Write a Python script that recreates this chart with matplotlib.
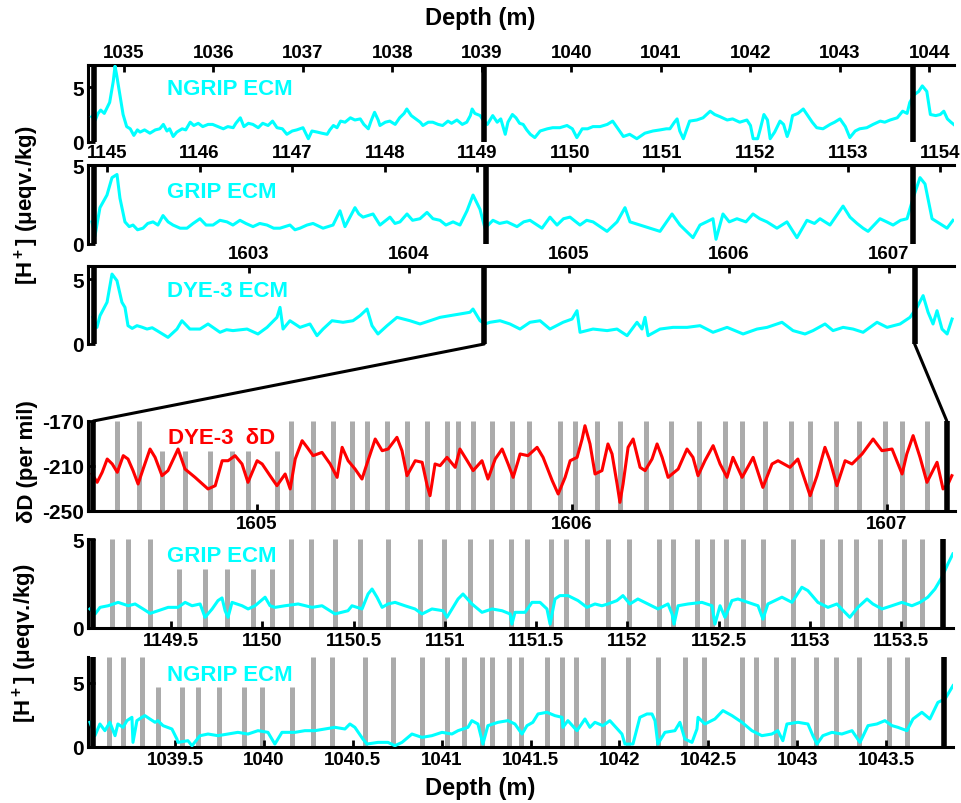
import numpy as np
import matplotlib
matplotlib.use("Agg")
import matplotlib.pyplot as plt
from matplotlib.patches import ConnectionPatch

plt.rcParams.update({
    "font.family": ["Liberation Sans", "DejaVu Sans"],
    "font.weight": "bold",
    "axes.unicode_minus": False,
    "mathtext.fontset": "custom",
    "mathtext.rm": "Liberation Sans:bold",
    "mathtext.bf": "Liberation Sans:bold",
    "mathtext.default": "rm",
})

# ---- data: (depth m, value) ----
ngrip_top = [
    (1034.64, 2.3), (1034.68, 2.0), (1034.71, 2.6), (1034.74, 2.9), (1034.78, 2.6), (1034.81, 3.1),
    (1034.84, 3.6), (1034.88, 5.5), (1034.90, 6.9), (1034.92, 6.0), (1034.96, 4.0), (1034.99, 2.5),
    (1035.03, 1.4), (1035.07, 1.2), (1035.11, 0.6), (1035.15, 1.1), (1035.18, 0.9), (1035.23, 1.1),
    (1035.29, 0.8), (1035.35, 1.1), (1035.40, 1.2), (1035.44, 1.6), (1035.48, 1.0), (1035.51, 1.2),
    (1035.55, 0.5), (1035.59, 0.9), (1035.65, 1.2), (1035.69, 1.1), (1035.74, 1.8), (1035.78, 1.5),
    (1035.83, 1.7), (1035.88, 1.4), (1035.94, 1.6), (1035.99, 1.6), (1036.05, 1.4), (1036.11, 1.2),
    (1036.16, 1.4), (1036.22, 1.3), (1036.25, 1.7), (1036.30, 2.2), (1036.34, 1.4), (1036.39, 1.7),
    (1036.44, 1.6), (1036.50, 1.3), (1036.55, 1.7), (1036.61, 1.5), (1036.66, 1.9), (1036.71, 1.3),
    (1036.77, 1.2), (1036.82, 0.7), (1036.88, 1.0), (1036.93, 1.1), (1037.00, 1.3), (1037.06, 0.3),
    (1037.10, 1.0), (1037.16, 0.9), (1037.21, 0.8), (1037.27, 0.7), (1037.30, 1.1), (1037.34, 1.5),
    (1037.38, 1.3), (1037.42, 1.9), (1037.47, 1.8), (1037.53, 2.2), (1037.58, 2.0), (1037.64, 2.1),
    (1037.68, 1.6), (1037.73, 1.2), (1037.76, 1.9), (1037.80, 2.7), (1037.84, 2.0), (1037.86, 1.5),
    (1037.92, 1.8), (1037.97, 1.9), (1038.03, 1.6), (1038.08, 2.2), (1038.13, 2.6), (1038.16, 3.0),
    (1038.21, 2.4), (1038.26, 2.1), (1038.31, 1.8), (1038.34, 1.5), (1038.40, 1.8), (1038.45, 1.8),
    (1038.51, 1.6), (1038.56, 1.5), (1038.62, 1.9), (1038.66, 1.7), (1038.72, 2.0), (1038.78, 1.6),
    (1038.83, 1.8), (1038.87, 2.4), (1038.89, 3.0), (1038.92, 2.6), (1038.98, 2.4), (1039.02, 1.9),
    (1039.06, 1.6), (1039.09, 2.0), (1039.12, 2.4), (1039.17, 1.8), (1039.21, 2.1), (1039.26, 0.7),
    (1039.29, 1.8), (1039.34, 2.5), (1039.38, 2.2), (1039.42, 1.7), (1039.46, 1.6), (1039.50, 1.1),
    (1039.54, 0.7), (1039.59, 0.4), (1039.65, 1.0), (1039.73, 1.2), (1039.79, 1.3), (1039.87, 1.3),
    (1039.95, 1.5), (1040.01, 1.2), (1040.06, 0.4), (1040.12, 1.2), (1040.18, 1.2), (1040.24, 1.4),
    (1040.32, 1.4), (1040.40, 1.6), (1040.46, 1.9), (1040.52, 1.2), (1040.58, 0.5), (1040.65, 0.7),
    (1040.73, 0.3), (1040.82, 0.8), (1040.91, 1.0), (1040.99, 1.1), (1041.06, 1.2), (1041.10, 1.2),
    (1041.15, 1.8), (1041.18, 2.1), (1041.21, 1.0), (1041.25, 0.3), (1041.29, 1.2), (1041.32, 1.9),
    (1041.40, 2.0), (1041.47, 2.2), (1041.55, 2.8), (1041.60, 2.5), (1041.66, 2.3), (1041.74, 2.0),
    (1041.80, 2.1), (1041.88, 1.8), (1041.96, 2.0), (1042.00, 1.5), (1042.03, 0.3), (1042.08, 0.3),
    (1042.11, 1.2), (1042.15, 2.5), (1042.19, 2.0), (1042.22, 0.3), (1042.27, 0.9), (1042.33, 1.9),
    (1042.37, 1.6), (1042.41, 0.5), (1042.44, 1.2), (1042.47, 2.4), (1042.53, 2.6), (1042.59, 3.0),
    (1042.64, 2.4), (1042.69, 1.8), (1042.74, 1.3), (1042.81, 1.2), (1042.89, 1.6), (1042.94, 1.8),
    (1043.00, 2.1), (1043.06, 1.4), (1043.11, 0.4), (1043.17, 1.0), (1043.22, 1.2), (1043.30, 1.3),
    (1043.37, 1.6), (1043.45, 1.9), (1043.50, 1.8), (1043.56, 2.0), (1043.64, 2.2), (1043.67, 2.5),
    (1043.70, 2.8), (1043.75, 2.6), (1043.78, 3.6), (1043.83, 4.3), (1043.88, 4.6), (1043.92, 5.1),
    (1043.97, 4.6), (1044.01, 2.5), (1044.07, 2.4), (1044.12, 2.5), (1044.16, 2.8), (1044.20, 2.1),
    (1044.24, 1.8), (1044.27, 1.6),
]

grip_top = [
    (1144.838, 1.4), (1144.870, 0.5), (1144.924, 2.3), (1145.000, 3.1), (1145.054, 4.2), (1145.108, 4.4),
    (1145.140, 2.9), (1145.194, 1.4), (1145.240, 1.1), (1145.281, 1.2), (1145.330, 0.9), (1145.389, 1.0),
    (1145.440, 1.3), (1145.497, 1.4), (1145.550, 1.2), (1145.605, 1.8), (1145.660, 1.4), (1145.713, 1.2),
    (1145.790, 1.0), (1145.864, 1.0), (1145.930, 1.3), (1146.004, 1.6), (1146.070, 1.2), (1146.145, 1.2),
    (1146.220, 1.5), (1146.296, 1.4), (1146.360, 1.2), (1146.436, 1.5), (1146.500, 1.3), (1146.577, 1.1),
    (1146.650, 1.3), (1146.728, 1.2), (1146.800, 1.0), (1146.868, 1.0), (1146.976, 1.2), (1147.030, 0.9),
    (1147.084, 1.0), (1147.160, 1.2), (1147.225, 1.3), (1147.333, 1.0), (1147.441, 1.2), (1147.516, 2.1),
    (1147.570, 1.1), (1147.678, 2.3), (1147.720, 1.9), (1147.765, 1.7), (1147.873, 1.9), (1147.948, 1.2),
    (1148.056, 1.7), (1148.110, 1.3), (1148.164, 1.4), (1148.240, 1.9), (1148.300, 1.5), (1148.380, 1.6),
    (1148.456, 2.0), (1148.520, 1.6), (1148.596, 1.5), (1148.660, 1.2), (1148.737, 1.4), (1148.812, 1.2),
    (1148.888, 2.1), (1148.953, 3.1), (1149.028, 2.2), (1149.082, 1.0), (1149.168, 1.5), (1149.240, 1.3),
    (1149.320, 1.4), (1149.428, 1.1), (1149.500, 1.4), (1149.568, 1.5), (1149.698, 1.0), (1149.784, 1.7),
    (1149.860, 1.2), (1149.930, 1.6), (1150.000, 1.7), (1150.108, 1.2), (1150.180, 1.5), (1150.249, 1.4),
    (1150.400, 0.8), (1150.508, 1.4), (1150.594, 2.3), (1150.648, 1.4), (1150.756, 1.2), (1150.864, 1.0),
    (1150.972, 0.8), (1151.102, 1.9), (1151.188, 1.2), (1151.328, 0.4), (1151.404, 1.2), (1151.544, 1.6),
    (1151.577, 0.3), (1151.652, 1.9), (1151.720, 1.4), (1151.803, 1.6), (1151.900, 1.4), (1151.976, 1.9),
    (1152.050, 1.6), (1152.127, 1.4), (1152.235, 1.0), (1152.343, 1.4), (1152.451, 0.4), (1152.559, 1.5),
    (1152.640, 1.3), (1152.700, 1.6), (1152.808, 1.2), (1152.949, 2.4), (1153.024, 1.7), (1153.100, 1.3),
    (1153.165, 1.0), (1153.219, 0.8), (1153.348, 1.6), (1153.420, 1.4), (1153.489, 1.2), (1153.570, 1.5),
    (1153.640, 1.6), (1153.705, 2.9), (1153.780, 4.2), (1153.834, 3.8), (1153.910, 1.6), (1154.018, 1.2),
    (1154.072, 1.0), (1154.136, 1.5),
]

dye3_top = [
    (1602.025, 2.05), (1602.050, 1.28), (1602.069, 2.18), (1602.113, 3.21), (1602.144, 5.38), (1602.175, 4.87),
    (1602.206, 3.21), (1602.225, 2.82), (1602.244, 1.41), (1602.270, 1.20), (1602.300, 1.41), (1602.330, 1.30),
    (1602.363, 1.15), (1602.395, 1.25), (1602.425, 1.03), (1602.494, 0.51), (1602.550, 1.15), (1602.581, 1.79),
    (1602.631, 1.15), (1602.694, 1.15), (1602.744, 1.54), (1602.819, 0.90), (1602.860, 1.10), (1602.900, 1.03),
    (1602.988, 1.15), (1603.056, 0.77), (1603.113, 1.28), (1603.175, 2.05), (1603.194, 2.82), (1603.213, 1.15),
    (1603.256, 1.79), (1603.319, 1.28), (1603.381, 1.54), (1603.425, 0.64), (1603.463, 1.15), (1603.519, 1.79),
    (1603.588, 1.67), (1603.650, 1.79), (1603.694, 2.18), (1603.738, 2.69), (1603.769, 1.41), (1603.806, 0.77),
    (1603.863, 1.41), (1603.925, 2.05), (1604.006, 1.79), (1604.069, 1.54), (1604.131, 1.79), (1604.194, 2.05),
    (1604.256, 2.18), (1604.319, 2.31), (1604.381, 2.44), (1604.400, 2.69), (1604.444, 1.79), (1604.475, 1.54),
    (1604.506, 1.67), (1604.569, 1.79), (1604.631, 1.54), (1604.694, 1.15), (1604.756, 1.67), (1604.819, 1.79),
    (1604.881, 1.15), (1604.963, 1.67), (1605.019, 1.92), (1605.050, 2.56), (1605.069, 0.90), (1605.150, 1.15),
    (1605.238, 1.03), (1605.300, 1.15), (1605.363, 0.64), (1605.425, 1.67), (1605.456, 1.15), (1605.475, 2.05),
    (1605.494, 0.64), (1605.569, 1.15), (1605.650, 1.28), (1605.738, 1.28), (1605.819, 1.41), (1605.900, 0.90),
    (1605.988, 1.28), (1606.088, 0.77), (1606.175, 1.15), (1606.238, 1.28), (1606.331, 1.67), (1606.400, 1.03),
    (1606.475, 0.77), (1606.525, 1.03), (1606.600, 1.54), (1606.650, 1.03), (1606.713, 1.28), (1606.775, 1.15),
    (1606.838, 0.90), (1606.925, 1.67), (1606.988, 1.28), (1607.069, 1.54), (1607.131, 2.05), (1607.175, 2.82),
    (1607.213, 3.72), (1607.244, 2.44), (1607.275, 1.54), (1607.300, 2.56), (1607.331, 1.15), (1607.363, 0.77),
    (1607.394, 1.92),
]

dye3_dD = [
    (1604.476, -217.1), (1604.492, -224.5), (1604.508, -215.6), (1604.524, -203.8), (1604.540, -208.2),
    (1604.556, -215.6), (1604.575, -200.8), (1604.590, -203.8), (1604.606, -214.1), (1604.622, -226.0),
    (1604.638, -212.7), (1604.660, -194.9), (1604.676, -202.3), (1604.698, -218.6), (1604.717, -214.1),
    (1604.749, -194.9), (1604.771, -212.7), (1604.803, -220.1), (1604.844, -230.4), (1604.867, -227.5),
    (1604.889, -205.3), (1604.908, -205.3), (1604.930, -200.8), (1604.952, -208.2), (1604.971, -224.5),
    (1605.000, -205.3), (1605.016, -208.2), (1605.041, -218.6), (1605.063, -227.5), (1605.089, -217.1),
    (1605.105, -230.4), (1605.121, -203.8), (1605.143, -187.5), (1605.159, -193.4), (1605.178, -200.8),
    (1605.206, -197.9), (1605.232, -208.2), (1605.254, -220.1), (1605.270, -193.4), (1605.289, -205.3),
    (1605.311, -212.7), (1605.333, -221.6), (1605.352, -205.3), (1605.375, -186.0), (1605.397, -196.4),
    (1605.416, -194.9), (1605.444, -184.5), (1605.460, -196.4), (1605.476, -218.6), (1605.502, -205.3),
    (1605.524, -206.7), (1605.540, -227.5), (1605.549, -236.4), (1605.565, -208.2), (1605.581, -209.7),
    (1605.603, -202.3), (1605.629, -211.2), (1605.644, -194.9), (1605.667, -205.3), (1605.686, -214.1),
    (1605.714, -205.3), (1605.733, -221.6), (1605.756, -203.8), (1605.778, -194.9), (1605.797, -208.2),
    (1605.813, -220.1), (1605.829, -205.3), (1605.835, -199.3), (1605.860, -200.8), (1605.889, -193.4),
    (1605.908, -202.3), (1605.937, -223.0), (1605.956, -234.9), (1605.978, -220.1), (1605.994, -205.3),
    (1606.016, -202.3), (1606.032, -186.0), (1606.041, -174.2), (1606.057, -190.4), (1606.073, -217.1),
    (1606.095, -214.1), (1606.114, -190.4), (1606.127, -199.3), (1606.143, -226.0), (1606.152, -242.3),
    (1606.162, -226.0), (1606.178, -193.4), (1606.194, -186.0), (1606.216, -211.2), (1606.232, -214.1),
    (1606.254, -203.8), (1606.270, -190.4), (1606.286, -202.3), (1606.305, -220.1), (1606.337, -212.7),
    (1606.365, -194.9), (1606.384, -202.3), (1606.400, -218.6), (1606.422, -205.3), (1606.448, -191.9),
    (1606.470, -208.2), (1606.492, -220.1), (1606.511, -202.3), (1606.540, -220.1), (1606.575, -202.3),
    (1606.606, -229.0), (1606.635, -208.2), (1606.654, -205.3), (1606.692, -211.2), (1606.717, -203.8),
    (1606.756, -236.4), (1606.778, -218.6), (1606.803, -193.4), (1606.819, -205.3), (1606.841, -227.5),
    (1606.867, -205.3), (1606.889, -208.2), (1606.921, -199.3), (1606.956, -186.0), (1606.984, -196.4),
    (1607.016, -194.9), (1607.048, -217.1), (1607.063, -199.3), (1607.083, -183.0), (1607.105, -202.3),
    (1607.127, -224.5), (1607.159, -206.7), (1607.178, -230.4), (1607.194, -226.0), (1607.206, -218.6),
]

grip_zoom = [
    (1149.056, 1.07), (1149.084, 0.79), (1149.111, 1.16), (1149.155, 1.25), (1149.210, 1.44), (1149.265, 1.25),
    (1149.303, 1.35), (1149.347, 1.07), (1149.385, 0.82), (1149.429, 0.97), (1149.484, 1.16), (1149.538, 1.16),
    (1149.577, 1.44), (1149.615, 1.25), (1149.659, 1.35), (1149.686, 0.60), (1149.725, 1.07), (1149.757, 1.54),
    (1149.779, 1.69), (1149.796, 0.97), (1149.812, 0.60), (1149.834, 1.44), (1149.889, 1.25), (1149.922, 1.07),
    (1149.960, 1.25), (1150.015, 1.73), (1150.042, 1.25), (1150.070, 1.16), (1150.124, 1.25), (1150.196, 1.35),
    (1150.272, 1.16), (1150.327, 1.25), (1150.398, 0.79), (1150.469, 0.97), (1150.491, 1.25), (1150.546, 1.07),
    (1150.579, 1.91), (1150.601, 2.19), (1150.628, 1.73), (1150.656, 1.16), (1150.688, 1.35), (1150.727, 1.44),
    (1150.781, 1.25), (1150.836, 1.07), (1150.875, 0.79), (1150.929, 1.07), (1150.990, 0.97), (1151.011, 0.60),
    (1151.039, 1.07), (1151.072, 1.63), (1151.099, 1.91), (1151.148, 1.35), (1151.203, 0.88), (1151.258, 1.07),
    (1151.313, 0.97), (1151.357, 0.79), (1151.367, 0.22), (1151.384, 0.88), (1151.439, 0.88), (1151.477, 1.44),
    (1151.521, 1.44), (1151.559, 1.07), (1151.576, 0.22), (1151.603, 1.63), (1151.630, 1.82), (1151.674, 1.82),
    (1151.729, 1.54), (1151.778, 1.16), (1151.822, 1.35), (1151.860, 1.25), (1151.893, 1.35), (1151.942, 1.54),
    (1151.975, 1.82), (1152.013, 1.35), (1152.057, 1.63), (1152.112, 1.35), (1152.167, 1.07), (1152.222, 1.35),
    (1152.244, 0.79), (1152.255, 0.22), (1152.277, 1.25), (1152.332, 1.35), (1152.408, 1.44), (1152.463, 1.25),
    (1152.479, 0.22), (1152.507, 1.25), (1152.534, 0.60), (1152.572, 1.54), (1152.605, 1.63), (1152.660, 1.44),
    (1152.715, 1.25), (1152.742, 0.50), (1152.769, 1.35), (1152.846, 1.73), (1152.901, 1.44), (1152.955, 2.29),
    (1152.988, 2.10), (1153.043, 1.44), (1153.098, 1.16), (1153.147, 1.35), (1153.191, 0.88), (1153.218, 0.60),
    (1153.262, 1.16), (1153.312, 1.63), (1153.344, 1.35), (1153.394, 1.07), (1153.448, 1.25), (1153.503, 1.44),
    (1153.558, 1.25), (1153.602, 1.44), (1153.645, 1.73), (1153.684, 2.19), (1153.722, 2.85), (1153.755, 3.60),
    (1153.782, 4.16),
]

ngrip_zoom = [
    (1039.022, 1.92), (1039.050, 0.88), (1039.078, 1.79), (1039.106, 1.27), (1039.134, 1.92), (1039.163, 0.88),
    (1039.179, 1.79), (1039.208, 1.53), (1039.230, 2.05), (1039.258, 2.31), (1039.264, 0.36), (1039.286, 2.05),
    (1039.314, 2.31), (1039.331, 2.44), (1039.359, 2.18), (1039.388, 1.92), (1039.404, 2.05), (1039.433, 1.66),
    (1039.483, 1.40), (1039.511, 0.62), (1039.517, 0.36), (1039.573, 0.49), (1039.596, 0.10), (1039.641, 0.88),
    (1039.686, 1.01), (1039.742, 0.88), (1039.798, 1.01), (1039.854, 1.14), (1039.911, 1.01), (1039.967, 1.27),
    (1040.023, 1.14), (1040.062, 0.23), (1040.102, 1.14), (1040.175, 1.14), (1040.231, 1.27), (1040.287, 1.27),
    (1040.343, 1.40), (1040.400, 1.53), (1040.456, 1.40), (1040.484, 1.79), (1040.512, 1.53), (1040.557, 0.62),
    (1040.580, 0.23), (1040.642, 0.36), (1040.698, 0.36), (1040.737, 0.10), (1040.777, 0.36), (1040.833, 1.01),
    (1040.889, 0.75), (1040.945, 0.88), (1041.002, 1.14), (1041.058, 1.01), (1041.092, 1.27), (1041.148, 1.53),
    (1041.170, 2.05), (1041.204, 1.79), (1041.232, 0.23), (1041.260, 1.66), (1041.317, 1.92), (1041.373, 2.05),
    (1041.412, 1.79), (1041.452, 1.01), (1041.480, 1.66), (1041.513, 1.92), (1041.542, 2.57), (1041.592, 2.70),
    (1041.637, 2.44), (1041.677, 2.31), (1041.682, 1.53), (1041.710, 2.05), (1041.761, 1.27), (1041.806, 2.18),
    (1041.834, 1.53), (1041.862, 1.92), (1041.907, 1.66), (1041.946, 2.05), (1042.014, 1.01), (1042.031, 0.23),
    (1042.076, 0.23), (1042.115, 2.31), (1042.155, 2.57), (1042.183, 2.57), (1042.200, 2.05), (1042.216, 0.23),
    (1042.256, 1.14), (1042.312, 1.27), (1042.340, 1.92), (1042.368, 0.62), (1042.408, 0.36), (1042.436, 1.40),
    (1042.442, 2.31), (1042.481, 1.79), (1042.537, 2.18), (1042.582, 2.83), (1042.633, 2.44), (1042.689, 1.92),
    (1042.745, 1.27), (1042.801, 0.88), (1042.857, 1.01), (1042.891, 1.27), (1042.919, 0.49), (1042.942, 1.79),
    (1043.004, 1.92), (1043.060, 1.79), (1043.088, 0.88), (1043.111, 0.23), (1043.144, 0.88), (1043.195, 1.14),
    (1043.251, 1.01), (1043.308, 1.27), (1043.353, 0.36), (1043.398, 1.66), (1043.448, 1.79), (1043.493, 2.05),
    (1043.533, 1.66), (1043.566, 1.53), (1043.617, 1.27), (1043.651, 2.18), (1043.701, 2.70), (1043.746, 2.18),
    (1043.791, 3.47), (1043.831, 3.73), (1043.859, 4.38), (1043.876, 4.77),
]

# annual layer marks (gray bars): full height and shorter (uncertain) ones
dD_layers = [1604.556, 1604.625, 1605.108, 1605.178, 1605.241, 1605.302, 1605.349, 1605.413, 1605.476,
             1605.540, 1605.603, 1605.638, 1605.686, 1605.746, 1605.810, 1605.863, 1605.962, 1606.010,
             1606.079, 1606.152, 1606.235, 1606.314, 1606.403, 1606.486, 1606.540, 1606.613, 1606.695,
             1606.756, 1606.838, 1606.911, 1606.994, 1607.048, 1607.127]
dD_layers_short = [1604.698, 1604.771, 1604.851, 1604.921, 1604.971, 1605.063]
grip_layers = [1149.175, 1149.263, 1149.385, 1150.157, 1150.267, 1150.398, 1150.535, 1150.687, 1150.864,
               1150.997, 1151.137, 1151.252, 1151.362, 1151.448, 1151.579, 1151.662, 1151.780, 1151.892,
               1152.010, 1152.173, 1152.251, 1152.379, 1152.461, 1152.539, 1152.631, 1152.744, 1152.905,
               1153.064, 1153.164, 1153.250, 1153.383, 1153.514, 1153.614]
grip_layers_short = [1149.545, 1149.686, 1149.805, 1149.947, 1150.055]
ngrip_layers = [1039.129, 1039.209, 1039.313, 1040.278, 1040.381, 1040.569, 1040.728, 1040.888, 1041.028,
                1041.127, 1041.225, 1041.285, 1041.379, 1041.446, 1041.594, 1041.678, 1041.755, 1041.905,
                1042.046, 1042.215, 1042.368, 1042.477, 1042.687, 1042.768, 1042.879, 1042.974, 1043.105,
                1043.218, 1043.347, 1043.517, 1043.615]
ngrip_layers_short = [1039.406, 1039.538, 1039.628, 1039.749, 1039.890, 1039.991, 1040.160]

# thick black markers: section boundaries
ngrip_marks = [1034.66, 1039.02, 1043.82]
grip_marks = [1144.86, 1149.09, 1153.70]
dye3_marks = [1602.03, 1604.47, 1607.16]
dD_marks = [1604.48, 1607.19]
grip_zoom_marks = [1149.07, 1153.726]
ngrip_zoom_marks = [1039.04, 1043.825]

ngrip_ticks = [1035, 1036, 1037, 1038, 1039, 1040, 1041, 1042, 1043, 1044]
grip_ticks = [1145, 1146, 1147, 1148, 1149, 1150, 1151, 1152, 1153, 1154]
dye3_ticks = [1603, 1604, 1605, 1606, 1607]
dD_ticks = [1605, 1606, 1607]
grip_zoom_ticks = [1149.5, 1150, 1150.5, 1151, 1151.5, 1152, 1152.5, 1153, 1153.5]
ngrip_zoom_ticks = [1039.5, 1040, 1040.5, 1041, 1041.5, 1042, 1042.5, 1043, 1043.5]
dD_yticks = [-250, -210, -170]

CYAN = "#00ffff"
GRAY = "#ababab"
W, H = 961, 804

fig = plt.figure(figsize=(W / 100, H / 100), dpi=100)


def px_axes(x0, y0, x1, y1):
    return fig.add_axes([x0 / W, 1 - y1 / H, (x1 - x0) / W, (y1 - y0) / H])


def style(ax, top):
    for s in ax.spines.values():
        s.set_linewidth(2.2)
    ax.spines["right"].set_visible(False)
    if top:
        ax.spines["bottom"].set_visible(False)
        ax.xaxis.tick_top()
    else:
        ax.spines["top"].set_visible(False)
    ax.tick_params(axis="x", direction="in", length=5, width=2, labelsize=13.5, pad=3)
    ax.tick_params(axis="y", direction="in", length=5, width=2, labelsize=15, pad=3)
    ax.tick_params(axis="y", which="both", right=False)
    ax.xaxis.set_major_formatter(plt.FuncFormatter(lambda v, p: f"{v:g}"))


def trace(ax, data, color):
    d, v = np.array(data).T
    ax.plot(d, v, color=color, lw=2.2, zorder=3)


def marks(ax, xs, lo, hi):
    ax.vlines(xs, lo, hi, color="k", lw=4, zorder=4)


def layers(ax, full, short, lo, hi, mid):
    ax.vlines(full, lo, hi, color=GRAY, lw=3.6, zorder=1)
    ax.vlines(short, lo, mid, color=GRAY, lw=3.6, zorder=1)


# --- overview panels ---
ax1 = px_axes(88, 66, 954, 143)
trace(ax1, ngrip_top, CYAN)
marks(ax1, ngrip_marks, 0, 7)
ax1.set_xlim(1034.598, 1044.274)
ax1.set_ylim(0, 7)
ax1.set_xticks(ngrip_ticks)
ax1.set_yticks([0, 5])
style(ax1, True)
ax1.text(0.091, 0.69, "NGRIP ECM", transform=ax1.transAxes, color=CYAN, fontsize=16, va="center")

ax2 = px_axes(88, 166, 954, 245)
trace(ax2, grip_top, CYAN)
marks(ax2, grip_marks, 0, 5)
ax2.set_xlim(1144.795, 1154.147)
ax2.set_ylim(0, 5)
ax2.set_xticks(grip_ticks)
ax2.set_yticks([0, 5])
style(ax2, True)
ax2.text(0.091, 0.67, "GRIP ECM", transform=ax2.transAxes, color=CYAN, fontsize=16, va="center")

ax3 = px_axes(88, 267, 954, 345)
trace(ax3, dye3_top, CYAN)
marks(ax3, dye3_marks, 0, 6)
ax3.set_xlim(1601.994, 1607.406)
ax3.set_ylim(0, 6)
ax3.set_xticks(dye3_ticks)
ax3.set_yticks([0, 5])
style(ax3, True)
ax3.text(0.091, 0.68, "DYE-3 ECM", transform=ax3.transAxes, color=CYAN, fontsize=16, va="center")

# --- zoomed panels ---
ax4 = px_axes(88, 422, 955, 512)
layers(ax4, dD_layers, dD_layers_short, -250, -170, -197)
trace(ax4, dye3_dD, "red")
marks(ax4, dD_marks, -250, -170)
ax4.set_xlim(1604.463, 1607.216)
ax4.set_ylim(-250, -170)
ax4.set_xticks(dD_ticks)
ax4.set_yticks(dD_yticks)
ax4.set_yticklabels([str(t) for t in dD_yticks])
style(ax4, False)
ax4.text(0.092, 0.82, "DYE-3  \u03b4D", transform=ax4.transAxes, color="red", fontsize=16, va="center")

ax5 = px_axes(88, 540, 953, 629)
layers(ax5, grip_layers, grip_layers_short, 0, 5, 3.3)
trace(ax5, grip_zoom, CYAN)
marks(ax5, grip_zoom_marks, 0, 5)
ax5.set_xlim(1149.045, 1153.783)
ax5.set_ylim(0, 5)
ax5.set_xticks(grip_zoom_ticks)
ax5.set_yticks([0, 5])
style(ax5, False)
ax5.text(0.091, 0.81, "GRIP ECM", transform=ax5.transAxes, color=CYAN, fontsize=16, va="center")

ax6 = px_axes(88, 658, 953, 748)
layers(ax6, ngrip_layers, ngrip_layers_short, 0, 7, 4.65)
trace(ax6, ngrip_zoom, CYAN)
marks(ax6, ngrip_zoom_marks, 0, 7)
ax6.set_xlim(1039.011, 1043.876)
ax6.set_ylim(0, 7)
ax6.set_xticks(ngrip_zoom_ticks)
ax6.set_yticks([0, 5])
style(ax6, False)
ax6.text(0.091, 0.81, "NGRIP ECM", transform=ax6.transAxes, color=CYAN, fontsize=16, va="center")

# zoom connectors from DYE-3 ECM section to the dD panel
for xa, xb in [(dye3_marks[1], dD_marks[0]), (dye3_marks[2], dD_marks[1])]:
    con = ConnectionPatch(xyA=(xa, 0), coordsA=ax3.transData, xyB=(xb, -170), coordsB=ax4.transData,
                          color="k", lw=2.2)
    fig.add_artist(con)

fig.text(480 / W, 1 - 18 / H, "Depth (m)", ha="center", va="center", fontsize=17)
fig.text(480 / W, 1 - 789 / H, "Depth (m)", ha="center", va="center", fontsize=17)
fig.text(27 / W, 1 - 205 / H, "[H$^+$] (\u03bceqv./kg)", rotation=90, ha="center", va="center", fontsize=16)
fig.text(25 / W, 1 - 643 / H, "[H$^+$] (\u03bceqv./kg)", rotation=90, ha="center", va="center", fontsize=16)
fig.text(27 / W, 1 - 462 / H, "\u03b4D (per mil)", rotation=90, ha="center", va="center", fontsize=16)

fig.savefig("out.png", dpi=100)
